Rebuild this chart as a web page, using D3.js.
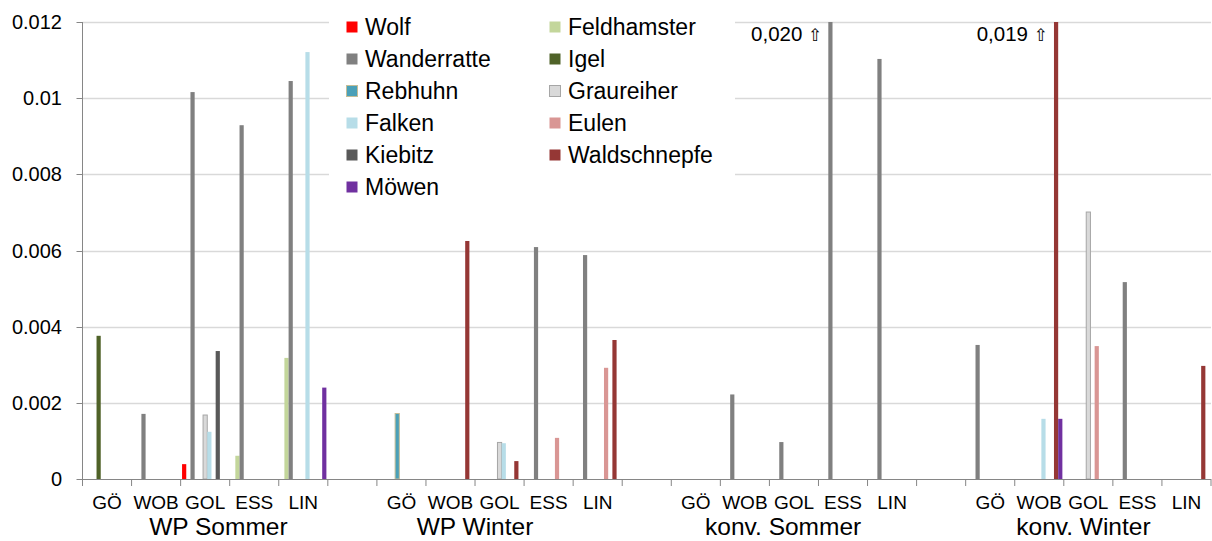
<!DOCTYPE html>
<html>
<head>
<meta charset="utf-8">
<script src="https://cdn.jsdelivr.net/npm/d3@7"></script>
<style>
    body { margin: 0; background: #fff; }
    svg { display: block; font-family: "Liberation Sans", Arial, sans-serif; }
</style>
</head>
<body>
<div id="chart"></div>
<script>
// Sites and seasons (x axis, two levels)
const sites = ['GÖ', 'WOB', 'GOL', 'ESS', 'LIN'];
const groups = ['WP Sommer', 'WP Winter', 'konv. Sommer', 'konv. Winter'];

// Series in bar order (legend is read row by row)
const seriesNames = ['Wolf', 'Feldhamster', 'Wanderratte', 'Igel', 'Rebhuhn', 'Graureiher',
    'Falken', 'Eulen', 'Kiebitz', 'Waldschnepfe', 'Möwen'];
const seriesColors = ['#ff0000', '#c3d69b', '#808080', '#4f6228', '#4aa0b8', '#d9d9d9',
    '#b7dde8', '#d99694', '#595959', '#953735', '#7030a0'];
const seriesStroke = [null, null, null, null, '#c4bd97', '#a6a6a6', null, null, null, null, null];

// Values: WP Sommer (GÖ..LIN), WP Winter, konv. Sommer, konv. Winter
const wolf         = [0, 0, 0.00039, 0, 0,   0, 0, 0, 0, 0,   0, 0, 0, 0, 0,   0, 0, 0, 0, 0];
const feldhamster  = [0, 0, 0, 0.00061, 0.00318,   0, 0, 0, 0, 0,   0, 0, 0, 0, 0,   0, 0, 0, 0, 0];
const wanderratte  = [0, 0.00171, 0.01016, 0.00929, 0.01045,   0, 0, 0, 0.00609, 0.00588,
                      0, 0.00222, 0.00097, 0.020, 0.01103,   0.00352, 0, 0, 0.00517, 0];
const igel         = [0.00376, 0, 0, 0, 0,   0, 0, 0, 0, 0,   0, 0, 0, 0, 0,   0, 0, 0, 0, 0];
const rebhuhn      = [0, 0, 0, 0, 0,   0.00172, 0, 0, 0, 0,   0, 0, 0, 0, 0,   0, 0, 0, 0, 0];
const graureiher   = [0, 0, 0.00168, 0, 0,   0, 0, 0.00096, 0, 0,   0, 0, 0, 0, 0,   0, 0, 0.00701, 0, 0];
const falken       = [0, 0, 0.00124, 0, 0.01121,   0, 0, 0.00094, 0, 0,   0, 0, 0, 0, 0,   0, 0.00158, 0, 0, 0];
const eulen        = [0, 0, 0, 0, 0,   0, 0, 0, 0.00108, 0.00292,   0, 0, 0, 0, 0,   0, 0, 0.00349, 0, 0];
const kiebitz      = [0, 0, 0.00336, 0, 0,   0, 0, 0, 0, 0,   0, 0, 0, 0, 0,   0, 0, 0, 0, 0];
const waldschnepfe = [0, 0, 0, 0, 0,   0, 0.00625, 0.00047, 0, 0.00365,   0, 0, 0, 0, 0,   0, 0.019, 0, 0, 0.00297];
const moewen       = [0, 0, 0, 0, 0.0024,   0, 0, 0, 0, 0,   0, 0, 0, 0, 0,   0, 0.00158, 0, 0, 0];

const seriesValues = [wolf, feldhamster, wanderratte, igel, rebhuhn, graureiher,
    falken, eulen, kiebitz, waldschnepfe, moewen];

const yTicks = [0, 0.002, 0.004, 0.006, 0.008, 0.01, 0.012];
const yMax = 0.012;

// Dimensions
const width = 1212, height = 541;
const plot = { left: 82.5, right: 1211, top: 22, bottom: 479 };

// Categories: 5 sites per season, one empty slot between seasons
const categories = [];
groups.forEach((g, gi) => {
    if (gi > 0) categories.push({ group: gi, site: null, idx: -1 });
    sites.forEach((s, si) => categories.push({ group: gi, site: s, idx: gi * sites.length + si }));
});

const svg = d3.select('#chart').append('svg')
    .attr('width', width)
    .attr('height', height);

const x = d3.scaleBand()
    .domain(d3.range(categories.length))
    .range([plot.left, plot.right])
    .padding(0);

const xs = d3.scaleBand()
    .domain(seriesNames)
    .range([0, x.bandwidth()])
    .paddingInner(0)
    .paddingOuter(0.34);

const y = d3.scaleLinear()
    .domain([0, yMax])
    .range([plot.bottom, plot.top])
    .clamp(true);

// Gridlines
svg.append('g')
    .selectAll('line')
    .data(yTicks.filter(d => d > 0))
    .enter().append('line')
    .attr('x1', plot.left).attr('x2', plot.right)
    .attr('y1', d => Math.round(y(d)) + 0.5).attr('y2', d => Math.round(y(d)) + 0.5)
    .attr('stroke', '#d9d9d9')
    .attr('stroke-width', 1.3);

// Bars
const barData = [];
categories.forEach((c, ci) => {
    if (c.idx < 0) return;
    seriesNames.forEach((name, si) => {
        const v = seriesValues[si][c.idx];
        if (v > 0) barData.push({ ci, si, name, v });
    });
});

svg.append('g')
    .selectAll('rect')
    .data(barData)
    .enter().append('rect')
    .attr('x', d => x(d.ci) + xs(d.name))
    .attr('y', d => y(d.v))
    .attr('width', xs.bandwidth())
    .attr('height', d => y(0) - y(d.v))
    .attr('fill', d => seriesColors[d.si])
    .attr('stroke', d => seriesStroke[d.si] || 'none')
    .attr('stroke-width', 1);

// Values beyond the axis maximum
const overLabels = svg.append('g')
    .selectAll('text')
    .data(barData.filter(d => d.v > yMax))
    .enter().append('text')
    .attr('x', d => x(d.ci) + xs(d.name) - 6)
    .attr('y', plot.top + 19)
    .attr('text-anchor', 'end')
    .attr('font-size', 20.5)
    .attr('fill', '#000');
overLabels.append('tspan')
    .text(d => d.v.toFixed(3).replace('.', ',') + ' ');
overLabels.append('tspan')
    .attr('font-family', '"DejaVu Sans", sans-serif')
    .attr('font-size', 17)
    .attr('fill', '#000')
    .text('\u21E7');

// Y axis
const yAxis = svg.append('g');
yAxis.append('line')
    .attr('x1', plot.left).attr('x2', plot.left)
    .attr('y1', plot.top).attr('y2', plot.bottom)
    .attr('stroke', '#868686');
yAxis.selectAll('.tick')
    .data(yTicks)
    .enter().append('line')
    .attr('x1', plot.left - 6).attr('x2', plot.left)
    .attr('y1', d => Math.round(y(d)) + 0.5).attr('y2', d => Math.round(y(d)) + 0.5)
    .attr('stroke', '#868686');
yAxis.selectAll('text')
    .data(yTicks)
    .enter().append('text')
    .attr('x', 62)
    .attr('y', d => y(d))
    .attr('dy', '0.35em')
    .attr('text-anchor', 'end')
    .attr('font-size', 20)
    .attr('fill', '#000')
    .text(d => String(+d.toFixed(3)));

// X axis
const xAxis = svg.append('g');
xAxis.append('line')
    .attr('x1', plot.left).attr('x2', plot.right)
    .attr('y1', plot.bottom + 0.5).attr('y2', plot.bottom + 0.5)
    .attr('stroke', '#868686');
xAxis.selectAll('.tick')
    .data(d3.range(categories.length + 1))
    .enter().append('line')
    .attr('x1', i => i < categories.length ? x(i) : plot.right)
    .attr('x2', i => i < categories.length ? x(i) : plot.right)
    .attr('y1', plot.bottom).attr('y2', plot.bottom + 7)
    .attr('stroke', '#868686');
xAxis.selectAll('.site')
    .data(categories.map((c, i) => ({ c, i })).filter(d => d.c.site))
    .enter().append('text')
    .attr('x', d => x(d.i) + x.bandwidth() / 2)
    .attr('y', 509)
    .attr('text-anchor', 'middle')
    .attr('font-size', 19)
    .attr('fill', '#000')
    .text(d => d.c.site);

// Season labels (Excel places them a bit off the group centre)
const groupShift = [0.27, -0.5, -0.22, -0.1];
xAxis.selectAll('.group')
    .data(groups)
    .enter().append('text')
    .attr('x', (g, gi) => {
        const first = categories.findIndex(c => c.group === gi && c.site);
        return x(first) + (sites.length / 2 + groupShift[gi]) * x.bandwidth();
    })
    .attr('y', 535)
    .attr('text-anchor', 'middle')
    .attr('font-size', 24.5)
    .attr('fill', '#000')
    .text(d => d);

// Legend
const legend = svg.append('g');
legend.append('rect')
    .attr('x', 329).attr('y', 4)
    .attr('width', 406).attr('height', 201)
    .attr('fill', '#fff');

const legendItems = legend.selectAll('.item')
    .data(seriesNames)
    .enter().append('g')
    .attr('transform', (d, i) => `translate(${i % 2 === 0 ? 346 : 549},${27 + Math.floor(i / 2) * 32})`);

legendItems.append('rect')
    .attr('x', 0.5).attr('y', -5.5)
    .attr('width', 11).attr('height', 11)
    .attr('fill', (d, i) => seriesColors[i])
    .attr('stroke', (d, i) => seriesStroke[i] || 'none');

legendItems.append('text')
    .attr('x', 19)
    .attr('dy', '0.36em')
    .attr('font-size', 23)
    .attr('fill', '#000')
    .text(d => d);
</script>
</body>
</html>
